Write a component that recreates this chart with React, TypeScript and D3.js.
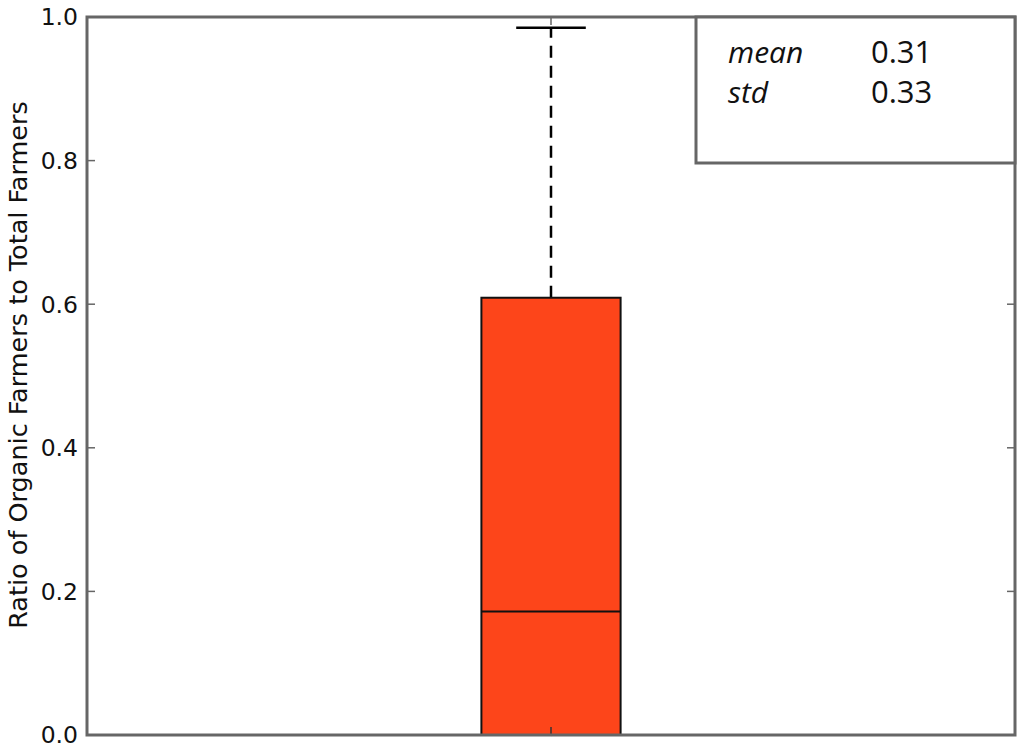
import React from 'react';
import * as d3 from 'd3';

// box-plot summary
const categories = ['Organic'];
const whiskerLow = [0.0];
const q1 = [0.0];
const median = [0.172];
const q3 = [0.609];
const whiskerHigh = [0.985];

const yTicks = [0.0, 0.2, 0.4, 0.6, 0.8, 1.0];
const statLabels = ['mean', 'std'];
const statValues = [0.31, 0.33];

const width = 1024;
const height = 752;
const margin = { top: 17, right: 9, bottom: 17, left: 87 };

const App = () => {
  const x = d3.scaleLinear()
    .domain([0.5, categories.length + 0.5])
    .range([margin.left, width - margin.right]);
  const y = d3.scaleLinear()
    .domain([0, 1])
    .range([height - margin.bottom, margin.top]);

  const boxW = (x(1.075) - x(0.925));
  const frame = '#666';

  const boxes = categories.map((c, i) => ({
    name: c,
    cx: x(i + 1),
    lo: whiskerLow[i],
    q1: q1[i],
    med: median[i],
    q3: q3[i],
    hi: whiskerHigh[i],
  }));

  return (
    <svg width={width} height={height} viewBox={`0 0 ${width} ${height}`}
      style={{ position: 'absolute', left: 0, top: 0, background: '#fff' }}>
      {/* y ticks, inside on both sides */}
      {yTicks.map(t => (
        <g key={t}>
          <line x1={x.range()[0]} x2={x.range()[0] + 8} y1={y(t)} y2={y(t)} stroke={frame} strokeWidth={1.5} />
          <line x1={x.range()[1]} x2={x.range()[1] - 8} y1={y(t)} y2={y(t)} stroke={frame} strokeWidth={1.5} />
          <text x={x.range()[0] - 9} y={y(t)} dy="0.36em" textAnchor="end"
            fontFamily="DejaVu Sans" fontSize={23.5} fill="#111">{t.toFixed(1)}</text>
        </g>
      ))}

      <text transform={`translate(27,${(y(0) + y(1)) / 2 - 11}) rotate(-90)`} textAnchor="middle"
        fontFamily="DejaVu Sans" fontSize={25.5} fill="#111">
        Ratio of Organic Farmers to Total Farmers
      </text>

      {boxes.map(b => (
        <g key={b.name}>
          <line x1={b.cx} x2={b.cx} y1={y(b.q3)} y2={y(b.hi)} stroke="#000" strokeWidth={2.5} strokeDasharray="12,8" />
          <line x1={b.cx - boxW / 4} x2={b.cx + boxW / 4} y1={y(b.hi)} y2={y(b.hi)} stroke="#000" strokeWidth={2.5} />
          <line x1={b.cx} x2={b.cx} y1={y(b.q1)} y2={y(b.lo)} stroke="#000" strokeWidth={2.5} strokeDasharray="12,8" />
          <rect x={b.cx - boxW / 2} y={y(b.q3)} width={boxW} height={y(b.q1) - y(b.q3)}
            fill="#fd451a" stroke="#111" strokeWidth={2} />
          <line x1={b.cx - boxW / 2} x2={b.cx + boxW / 2} y1={y(b.med)} y2={y(b.med)} stroke="#111" strokeWidth={2} />
          {/* x ticks top and bottom */}
          <line x1={b.cx} x2={b.cx} y1={y(0)} y2={y(0) - 8} stroke="#333" strokeWidth={1.5} />
          <line x1={b.cx} x2={b.cx} y1={y(1)} y2={y(1) + 8} stroke={frame} strokeWidth={1.5} />
        </g>
      ))}

      {/* frame */}
      <rect x={x.range()[0]} y={y(1)} width={x.range()[1] - x.range()[0]} height={y(0) - y(1)}
        fill="none" stroke={frame} strokeWidth={3} />

      {/* stats box */}
      <g>
        <rect x={696} y={y(1)} width={x.range()[1] - 696} height={146}
          fill="#fff" stroke={frame} strokeWidth={3} />
        {statLabels.map((s, i) => (
          <g key={s}>
            <text x={728} y={63 + i * 40} fontFamily="Open Sans" fontStyle="italic" fontSize={30} fill="#111">{s}</text>
            <text x={871} y={63 + i * 40} fontFamily="Open Sans" fontSize={31} fill="#111">{statValues[i].toFixed(2)}</text>
          </g>
        ))}
      </g>
    </svg>
  );
};

export default App;
